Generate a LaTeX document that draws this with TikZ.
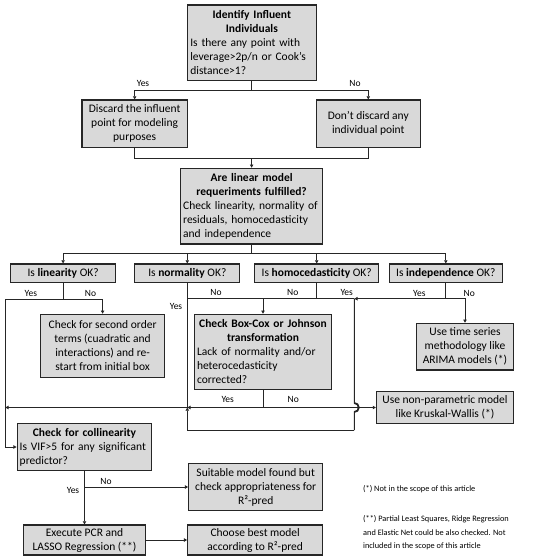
\documentclass[tikz,border=0pt]{standalone}
\usepackage{fontspec}
\setmainfont{Carlito}
\usetikzlibrary{arrows.meta}
\definecolor{boxgray}{HTML}{D9D9D9}
\definecolor{edge}{HTML}{262626}
\begin{document}
\begin{tikzpicture}[x=1pt,y=-1pt,
  box/.style={draw=edge, line width=1.1pt, fill=boxgray, inner sep=2pt, align=center,
    font=\fontsize{11.5}{14}\selectfont},
  mixbox/.style={draw=edge, line width=1.1pt, fill=boxgray, inner sep=2.5pt,
    font=\fontsize{11.5}{14}\selectfont},
  lbl/.style={font=\fontsize{9.5}{11}\selectfont, inner sep=0pt},
  note/.style={font=\fontsize{8.3}{13.3}\selectfont, inner sep=0pt, align=left, anchor=west},
  conn/.style={line width=0.9pt, draw=edge},
  arr/.style={conn, -{Triangle[length=3.2pt,width=3.4pt]}}]
\useasboundingbox (0,0) rectangle (550,557);

% boxes
\node[mixbox, minimum width=129, minimum height=75.7, text width=123] (top) at (251.85,42.85)
 {{\centering\bfseries Identify Influent\\Individuals\par}\raggedright Is there any point with\\leverage>2p/n or Cook’s\\distance>1?};
\node[box, minimum width=105.3, minimum height=47.3] (discard) at (134.65,123.65)
 {Discard the influent\\point for modeling\\purposes};
\node[box, minimum width=103.8, minimum height=47.3] (dont) at (368.3,123.65)
 {Don’t discard any\\individual point};
\node[mixbox, minimum width=142.1, minimum height=75.7, text width=137] (linear) at (251.65,206.15)
 {{\centering\bfseries Are linear model\\requeriments fulfilled?\par}\raggedright Check linearity, normality of\\residuals, homocedasticity\\and independence};
\node[box, minimum width=105.2, minimum height=18.7] (lin) at (63.1,273.35) {Is \textbf{linearity} OK?};
\node[box, minimum width=105.2, minimum height=18.7] (norm) at (187.3,273.35) {Is \textbf{normality} OK?};
\node[box, minimum width=124.2, minimum height=18.7] (homo) at (316.7,273.35) {Is \textbf{homocedasticity} OK?};
\node[box, minimum width=113, minimum height=18.7] (indep) at (445.8,273.35) {Is \textbf{independence} OK?};
\node[box, minimum width=124.6, minimum height=63] (second) at (102.6,345.8)
 {Check for second order\\terms (cuadratic and\\interactions) and re-\\start from initial box};
\node[mixbox, minimum width=137.4, minimum height=75, text width=132] (boxcox) at (263,351.8)
 {{\centering\bfseries Check Box-Cox or Johnson\\transformation\par}\raggedright Lack of normality and/or\\heterocedasticity\\corrected?};
\node[box, minimum width=96.6, minimum height=46.7] (timeser) at (465,346.65)
 {Use time series\\methodology like\\ARIMA models (*)};
\node[box, minimum width=137, minimum height=32.3] (nonpar) at (445,407.5)
 {Use non-parametric model\\like Kruskal-Wallis (*)};
\node[mixbox, minimum width=134.7, minimum height=47.4, text width=129.5] (collin) at (84.5,447)
 {{\centering\bfseries Check for collinearity\par}\raggedright Is VIF>5 for any significant\\predictor?};
\node[box, minimum width=134, minimum height=46.7] (suitable) at (255.7,487)
 {Suitable model found but\\check appropriateness for\\R²-pred};
\node[box, minimum width=122.7, minimum height=30] (execute) at (84.5,540)
 {Execute PCR and\\LASSO Regression (**)};
\node[box, minimum width=135, minimum height=30] (choose) at (255.2,540)
 {Choose best model\\according to R²-pred};

% notes
\node[note] (n1note) at (363,489.3) {(*) Not in the scope of this article};
\node[note] (n2note) at (363,532.7) {(**) Partial Least Squares, Ridge Regression\\and Elastic Net could be also checked. Not\\included in the scope of this article};

% junction coordinates
\coordinate (s1) at (251.85,90);
\coordinate (j1) at (251.65,158);
\coordinate (s2) at (251.65,253.3);
\coordinate (l1) at (63.1,299.3);
\coordinate (lx) at (5.3,299.3);
\coordinate (n1) at (187.3,298.7);
\coordinate (h1) at (316.7,298.7);
\coordinate (v1) at (354.3,298.7);
\coordinate (i1) at (445.8,298.7);
\coordinate (n2) at (187.3,407.5);
\coordinate (b1) at (263,407.5);
\coordinate (lx2) at (5.3,407.5);
\coordinate (lb) at (354.3,430);
\coordinate (c1) at (84.5,487);

% connectors
\draw[conn] (top.south) -- (s1);
\draw[arr] (s1) -| (discard.north);
\draw[arr] (s1) -| (dont.north);
\draw[conn] (discard.south) |- (j1);
\draw[conn] (dont.south) |- (j1);
\draw[arr] (j1) -- (linear.north);
\draw[conn] (linear.south) -- (s2);
\draw[arr] (s2) -| (lin.north);
\draw[arr] (s2) -| (norm.north);
\draw[arr] (s2) -| (homo.north);
\draw[arr] (s2) -| (indep.north);

\draw[conn] (lin.south) -- (l1);
\draw[arr] (l1) -| (second.north);
\draw[arr] (l1) -- (lx) |- (collin.west);

\draw[conn] (norm.south) -- (n2);
\draw[conn] (homo.south) -- (h1);
\draw[conn] (n1) -- (v1);
\draw[arr] (boxcox.north |- n1) -- (boxcox.north);
\draw[conn] (v1) -- (354.3,403) arc[start angle=90, end angle=-90, radius=4.5pt] -- (lb);
\draw[conn, line width=1.8pt] (354.3,403) arc[start angle=90, end angle=-90, radius=4.5pt];
\draw[arr] (lb) -| (n2);
\draw[conn] (indep.south) -- (i1);
\draw[arr] (i1) -| (timeser.north);
\draw[arr] (i1) -- (v1);

\draw[conn] (boxcox.south) -- (b1);
\draw[arr] (b1) -- (n2);
\draw[arr] (n2) -- (lx2);
\draw[arr] (b1) -- (nonpar.west);

\draw[arr] (collin.south) -- (execute.north);
\draw[arr] (c1) -- (suitable.west);
\draw[arr] (execute.east) -- (choose.west);

% labels
\node[lbl] (ly1) at (143,83.5) {Yes};
\node[lbl] (ln1) at (355,83.5) {No};
\node[lbl] (ly2) at (30.9,293) {Yes};
\node[lbl] (ln2) at (90.5,293) {No};
\node[lbl] (ln3) at (216,292) {No};
\node[lbl] (ly3) at (176,306) {Yes};
\node[lbl] (ln4) at (292.7,292) {No};
\node[lbl] (ly4) at (346.7,292.5) {Yes};
\node[lbl] (ly5) at (419.3,293.3) {Yes};
\node[lbl] (ln5) at (469.3,293.3) {No};
\node[lbl] (ly6) at (227.7,399.5) {Yes};
\node[lbl] (ln6) at (293.3,399.5) {No};
\node[lbl] (ln7) at (106,481.5) {No};
\node[lbl] (ly7) at (73,490.7) {Yes};
\end{tikzpicture}
\end{document}
